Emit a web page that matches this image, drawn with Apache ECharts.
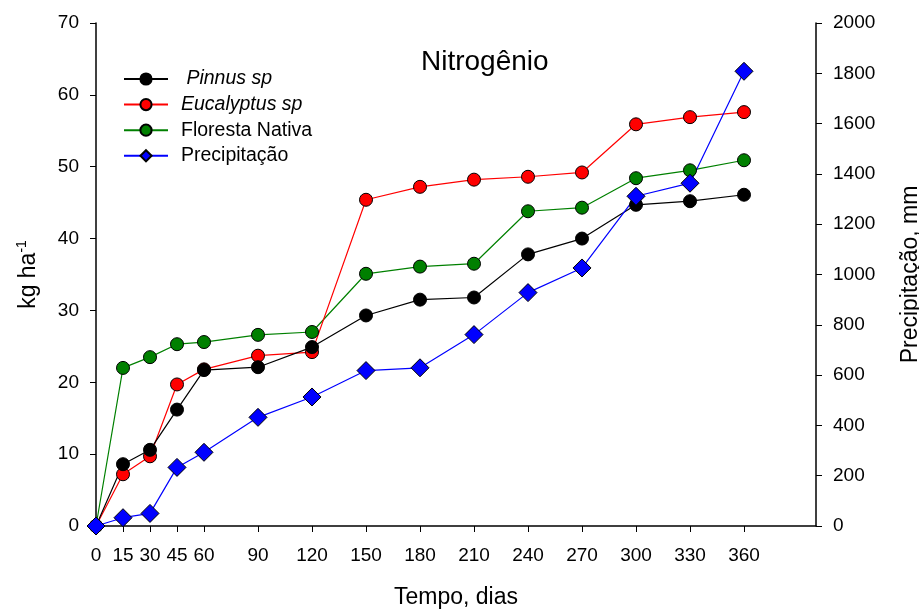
<!DOCTYPE html>
<html>
<head>
<meta charset="utf-8">
<script src="https://cdn.jsdelivr.net/npm/echarts@6/dist/echarts.min.js"></script>
<style>
  html, body { margin: 0; padding: 0; background: #fff; }
  #chart { width: 919px; height: 610px; }
</style>
</head>
<body>
<div id="chart"></div>
<script>
// dias de coleta
var dias = [0, 15, 30, 45, 60, 90, 120, 150, 180, 210, 240, 270, 300, 330, 360];
// N acumulado, kg ha-1
var pinnus = [0, 8.6, 10.6, 16.2, 21.7, 22.1, 24.9, 29.3, 31.5, 31.8, 37.8, 40.0, 44.7, 45.2, 46.1];
var eucalyptus = [0, 7.2, 9.7, 19.7, 21.8, 23.7, 24.2, 45.4, 47.2, 48.2, 48.6, 49.2, 55.9, 56.9, 57.6];
var floresta = [0, 22.0, 23.5, 25.3, 25.6, 26.6, 27.0, 35.1, 36.1, 36.5, 43.8, 44.3, 48.4, 49.5, 50.9];
// precipitacao acumulada, mm
var precip = [0, 33, 50, 233, 293, 432, 513, 618, 629, 761, 928, 1026, 1311, 1363, 1808];

var fonte = "Liberation Sans";

function pares(ys) {
  return dias.map(function (d, i) { return [d, ys[i]]; });
}

function serie(nome, cor, ys, simbolo, tam, eixo) {
  return {
    name: nome,
    type: "line",
    yAxisIndex: eixo,
    data: pares(ys),
    symbol: simbolo,
    symbolSize: tam,
    color: cor,
    lineStyle: { color: cor, width: 1.2 },
    itemStyle: { color: cor, borderColor: "#000", borderWidth: 1 },
    emphasis: { disabled: true },
    animation: false
  };
}

var chart = echarts.init(document.getElementById("chart"));
var option = {
  backgroundColor: "#fff",
  textStyle: { fontFamily: fonte },
  title: {
    text: "Nitrogênio",
    left: 416,
    top: 43,
    textStyle: { fontFamily: fonte, fontSize: 28, fontWeight: "normal", color: "#000" }
  },
  legend: {
    orient: "vertical",
    left: 123,
    top: 68,
    padding: 0,
    itemWidth: 44,
    itemHeight: 14,
    itemGap: 3.6,
    textStyle: { fontFamily: fonte, fontSize: 19.5, color: "#000", lineHeight: 22, padding: [0, 0, 0, 8] },
    data: [
      { name: " Pinnus sp", textStyle: { fontStyle: "italic" } },
      { name: "Eucalyptus sp", textStyle: { fontStyle: "italic" } },
      { name: "Floresta Nativa" },
      { name: "Precipitação" }
    ]
  },
  grid: { left: 96, right: 103, top: 23, bottom: 84, outerBoundsMode: "none" },
  xAxis: {
    type: "value",
    min: 0,
    max: 400,
    interval: 15,
    name: "Tempo, dias",
    nameLocation: "middle",
    nameGap: 60,
    nameTextStyle: { fontFamily: fonte, fontSize: 23, color: "#000" },
    axisLine: { lineStyle: { color: "#000", width: 1.5 } },
    axisTick: { show: true, length: 6, lineStyle: { color: "#000" }, customValues: dias },
    axisLabel: { fontFamily: fonte, fontSize: 19, color: "#000", margin: 20, customValues: dias },
    splitLine: { show: false }
  },
  yAxis: [
    {
      type: "value",
      min: 0,
      max: 70,
      interval: 10,
      name: "{a|kg ha}{b|-1}",
      nameLocation: "middle",
      nameGap: 53,
      nameRotate: 90,
      nameTextStyle: {
        rich: {
          a: { fontFamily: fonte, fontSize: 23, color: "#000" },
          b: { fontFamily: fonte, fontSize: 14, color: "#000", verticalAlign: "top", padding: [0, 0, 14, 0] }
        }
      },
      axisLine: { show: true, lineStyle: { color: "#000", width: 1.5 } },
      axisTick: { show: true, length: 6, lineStyle: { color: "#000" } },
      axisLabel: { fontFamily: fonte, fontSize: 19, color: "#000", margin: 17 },
      splitLine: { show: false }
    },
    {
      type: "value",
      min: 0,
      max: 2000,
      interval: 200,
      position: "right",
      name: "Precipitação, mm",
      nameLocation: "middle",
      nameGap: 83,
      nameRotate: 90,
      nameTextStyle: { fontFamily: fonte, fontSize: 23, color: "#000" },
      axisLine: { show: true, lineStyle: { color: "#000", width: 1.5 } },
      axisTick: { show: true, length: 6, lineStyle: { color: "#000" } },
      axisLabel: {
        fontFamily: fonte, fontSize: 19, color: "#000", margin: 17,
        formatter: function (v) { return String(v); }
      },
      splitLine: { show: false }
    }
  ],
  series: [
    serie("Floresta Nativa", "#008000", floresta, "circle", 13, 0),
    serie("Eucalyptus sp", "#ff0000", eucalyptus, "circle", 13, 0),
    serie(" Pinnus sp", "#000000", pinnus, "circle", 13, 0),
    serie("Precipitação", "#0000ff", precip, "diamond", 18, 1)
  ]
};
chart.setOption(option);
</script>
</body>
</html>
